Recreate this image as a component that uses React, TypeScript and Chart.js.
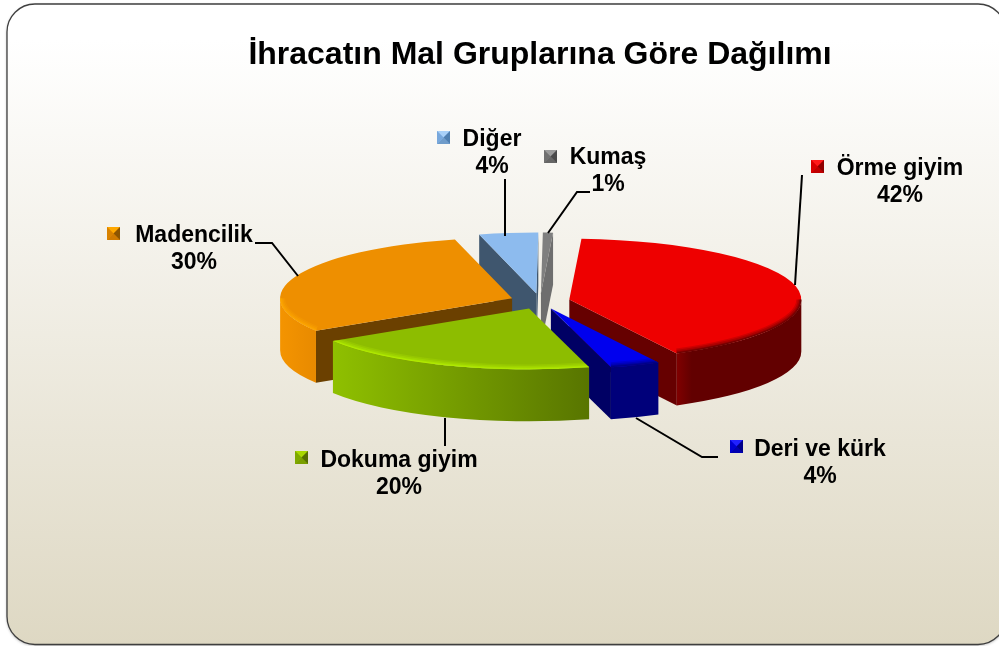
import React, { useEffect, useRef } from "react";
import { Chart, registerables } from "chart.js";

Chart.register(...registerables);

// ---- data ----
const categories = ["Örme giyim", "Deri ve kürk", "Dokuma giyim", "Madencilik", "Diğer", "Kumaş"];
const shares = [41.5, 3.5, 20.2, 30.0, 4.1, 0.7];
const chartTitle = "İhracatın Mal Gruplarına Göre Dağılımı";

// ---- styles ----
const topColors = ["#ee0000", "#0000ee", "#8dbd00", "#ee8f00", "#8dbbee", "#7f7f7f"];
const wallFrom = ["#800000", "#00007a", "#8fc000", "#f49400", "#7fa8d6", "#8a8a8a"];
const wallTo = ["#620000", "#00007a", "#587500", "#e88a00", "#7fa8d6", "#8a8a8a"];
const cutColors = ["#660000", "#000064", "#5f7f00", "#6b4000", "#3f566e", "#6e6e6e"];
const rimColors = ["#620000", "#00007a", "#b4ee00", "#ffa800", "#8dbbee", "#7f7f7f"];
const swatchTop = ["#ff1a1a", "#2020ff", "#a8d800", "#ffa800", "#a8d0f8", "#9a9a9a"];
const swatchLeft = ["#d80000", "#0000d0", "#7ea800", "#d88200", "#78a8dc", "#707070"];
const swatchRight = ["#900000", "#000088", "#566f00", "#8e5500", "#4f7fb0", "#4a4a4a"];
const swatchBottom = ["#c00000", "#0000b0", "#7a9f00", "#d07a00", "#6f9cca", "#666666"];

// ---- layout ----
const PIE_CY = 301.2;
const SQUASH = 0.262;
const EXPLODE = 30;
const DEPTH = 52;
const PAINT_ORDER = [4, 5, 3, 0, 1, 2];
const labelPos = [
  { x: 900, y: 169, sx: 811, sy: 160 },
  { x: 820, y: 450, sx: 730, sy: 440 },
  { x: 399, y: 461, sx: 295, sy: 451 },
  { x: 194, y: 236, sx: 107, sy: 227 },
  { x: 492, y: 140, sx: 437, sy: 131 },
  { x: 608, y: 158, sx: 544, sy: 150 },
];
const leaders = [
  [[802, 175], [795, 285]],
  [[636, 418], [702, 457], [718, 457]],
  [[445, 418], [445, 446]],
  [[298, 276], [272, 243], [255, 243]],
  [[505, 179], [505, 236]],
  [[548, 233], [577, 192], [590, 192]],
];

function roundedFrame(ctx: CanvasRenderingContext2D) {
  ctx.beginPath();
  ctx.roundRect(7, 4, 999, 640.5, 28);
}

const framePlugin = {
  id: "frame",
  beforeDraw(chart: any) {
    const ctx: CanvasRenderingContext2D = chart.ctx;
    ctx.save();
    ctx.fillStyle = "#ffffff";
    ctx.fillRect(0, 0, 999, 646);
    const g = ctx.createLinearGradient(0, 40, 0, 645);
    g.addColorStop(0, "#ffffff");
    g.addColorStop(1, "#ded8c3");
    roundedFrame(ctx);
    ctx.fillStyle = g;
    ctx.shadowColor = "rgba(0,0,0,0.35)";
    ctx.shadowBlur = 3;
    ctx.shadowOffsetY = 1;
    ctx.fill();
    ctx.shadowColor = "transparent";
    ctx.strokeStyle = "#3f3f3f";
    ctx.lineWidth = 1.3;
    ctx.stroke();
    ctx.restore();
  },
};

function geom(el: any) {
  const { x, startAngle, endAngle, outerRadius } = el.getProps(["x", "startAngle", "endAngle", "outerRadius"], true);
  const mid = (startAngle + endAngle) / 2;
  const cx = x + Math.cos(mid) * EXPLODE;
  const cy = PIE_CY + Math.sin(mid) * EXPLODE * SQUASH;
  return { cx, cy, r: outerRadius, a0: startAngle, a1: endAngle };
}

function pt(g: any, a: number, d: number) {
  return [g.cx + g.r * Math.cos(a), g.cy + g.r * SQUASH * Math.sin(a) + d];
}

function drawFace(ctx: CanvasRenderingContext2D, g: any, a: number, color: string) {
  const p = pt(g, a, 0);
  const q = pt(g, a, DEPTH);
  ctx.beginPath();
  ctx.moveTo(g.cx, g.cy);
  ctx.lineTo(p[0], p[1]);
  ctx.lineTo(q[0], q[1]);
  ctx.lineTo(g.cx, g.cy + DEPTH);
  ctx.closePath();
  ctx.fillStyle = color;
  ctx.fill();
}

function drawWall(ctx: CanvasRenderingContext2D, g: any, i: number) {
  const from = Math.max(g.a0, 0);
  const to = Math.min(g.a1, Math.PI);
  if (to <= from) return;
  const ry = g.r * SQUASH;
  const a = pt(g, to, 0);
  const b = pt(g, from, 0);
  const left = Math.min(a[0], b[0]);
  const right = Math.max(a[0], b[0]);
  const grad = ctx.createLinearGradient(left, 0, right, 0);
  if (i === 0) {
    grad.addColorStop(0, wallFrom[i]);
    grad.addColorStop(0.12, wallTo[i]);
    grad.addColorStop(1, wallTo[i]);
  } else {
    grad.addColorStop(0, wallFrom[i]);
    grad.addColorStop(1, wallTo[i]);
  }
  ctx.beginPath();
  ctx.ellipse(g.cx, g.cy, g.r, ry, 0, from, to);
  ctx.ellipse(g.cx, g.cy + DEPTH, g.r, ry, 0, to, from, true);
  ctx.closePath();
  ctx.fillStyle = grad;
  ctx.fill();
}

function drawRim(ctx: CanvasRenderingContext2D, g: any, i: number) {
  const from = Math.max(g.a0, 0);
  const to = Math.min(g.a1, Math.PI);
  if (to <= from) return;
  ctx.save();
  ctx.beginPath();
  ctx.moveTo(g.cx, g.cy);
  ctx.ellipse(g.cx, g.cy, g.r, g.r * SQUASH, 0, g.a0, g.a1);
  ctx.closePath();
  ctx.clip();
  ctx.strokeStyle = rimColors[i];
  for (const [w, alpha] of [[10, 0.22], [7, 0.3], [4, 0.45], [2, 0.7]]) {
    ctx.globalAlpha = alpha;
    ctx.lineWidth = w;
    ctx.beginPath();
    ctx.ellipse(g.cx, g.cy, g.r, g.r * SQUASH, 0, from, to);
    ctx.stroke();
  }
  ctx.restore();
}

const pie3dPlugin = {
  id: "pie3d",
  beforeDatasetDraw(chart: any, args: any) {
    const ctx: CanvasRenderingContext2D = chart.ctx;
    const arcs = args.meta.data;
    // sides, back to front
    for (const i of PAINT_ORDER) {
      const g = geom(arcs[i]);
      if (Math.cos(g.a0) < 0) drawFace(ctx, g, g.a0, cutColors[i]);
      if (Math.cos(g.a1) > 0) drawFace(ctx, g, g.a1, cutColors[i]);
      drawWall(ctx, g, i);
    }
    // tops, through the library's arc elements
    for (const i of PAINT_ORDER) {
      const el = arcs[i];
      const g = geom(el);
      ctx.save();
      ctx.translate(g.cx, g.cy);
      ctx.scale(1, SQUASH);
      ctx.translate(-el.x, -el.y);
      el.draw(ctx, chart.chartArea);
      ctx.restore();
      drawRim(ctx, g, i);
    }
    return false;
  },
};

function drawSwatch(ctx: CanvasRenderingContext2D, x: number, y: number, i: number) {
  const s = 13;
  const cx = x + s / 2;
  const cy = y + s / 2;
  const tri = (ax: number, ay: number, bx: number, by: number, c: string) => {
    ctx.beginPath();
    ctx.moveTo(ax, ay);
    ctx.lineTo(bx, by);
    ctx.lineTo(cx, cy);
    ctx.closePath();
    ctx.fillStyle = c;
    ctx.fill();
  };
  ctx.fillStyle = topColors[i];
  ctx.fillRect(x, y, s, s);
  tri(x, y, x + s, y, swatchTop[i]);
  tri(x, y + s, x + s, y + s, swatchBottom[i]);
  tri(x, y, x, y + s, swatchLeft[i]);
  tri(x + s, y, x + s, y + s, swatchRight[i]);
}

const labelPlugin = {
  id: "sliceLabels",
  afterDatasetsDraw(chart: any) {
    const ctx: CanvasRenderingContext2D = chart.ctx;
    ctx.save();
    ctx.strokeStyle = "#000000";
    ctx.lineWidth = 2;
    ctx.lineJoin = "miter";
    for (const line of leaders) {
      ctx.beginPath();
      line.forEach(([x, y], k) => (k ? ctx.lineTo(x, y) : ctx.moveTo(x, y)));
      ctx.stroke();
    }
    ctx.font = 'bold 23px "Liberation Sans"';
    ctx.textAlign = "center";
    ctx.textBaseline = "middle";
    categories.forEach((name, i) => {
      const p = labelPos[i];
      ctx.fillStyle = "#000000";
      ctx.fillText(name, p.x, p.y);
      ctx.fillText(`${Math.round(shares[i])}%`, p.x, p.y + 26.5);
      drawSwatch(ctx, p.sx, p.sy, i);
    });
    ctx.restore();
  },
};

export default function App() {
  const ref = useRef<HTMLCanvasElement>(null);
  useEffect(() => {
    const chart = new Chart(ref.current as HTMLCanvasElement, {
      type: "pie",
      data: {
        labels: categories,
        datasets: [{ data: shares, backgroundColor: topColors, borderWidth: 0 }],
      },
      options: {
        responsive: false,
        animation: false,
        rotation: 3,
        radius: 232,
        layout: { padding: { left: 81 } },
        plugins: {
          legend: { display: false },
          tooltip: { enabled: false },
          title: {
            display: true,
            text: chartTitle,
            color: "#000000",
            font: { family: '"Liberation Sans"', size: 32, weight: "bold", lineHeight: 1.2 },
            padding: { top: 36, bottom: 0 },
          },
        },
      } as any,
      plugins: [framePlugin, pie3dPlugin, labelPlugin] as any,
    });
    return () => chart.destroy();
  }, []);
  return (
    <div style={{ position: "fixed", left: 0, top: 0, width: 999, height: 646, overflow: "hidden" }}>
      <canvas ref={ref} width={999} height={646} style={{ display: "block" }} />
    </div>
  );
}
